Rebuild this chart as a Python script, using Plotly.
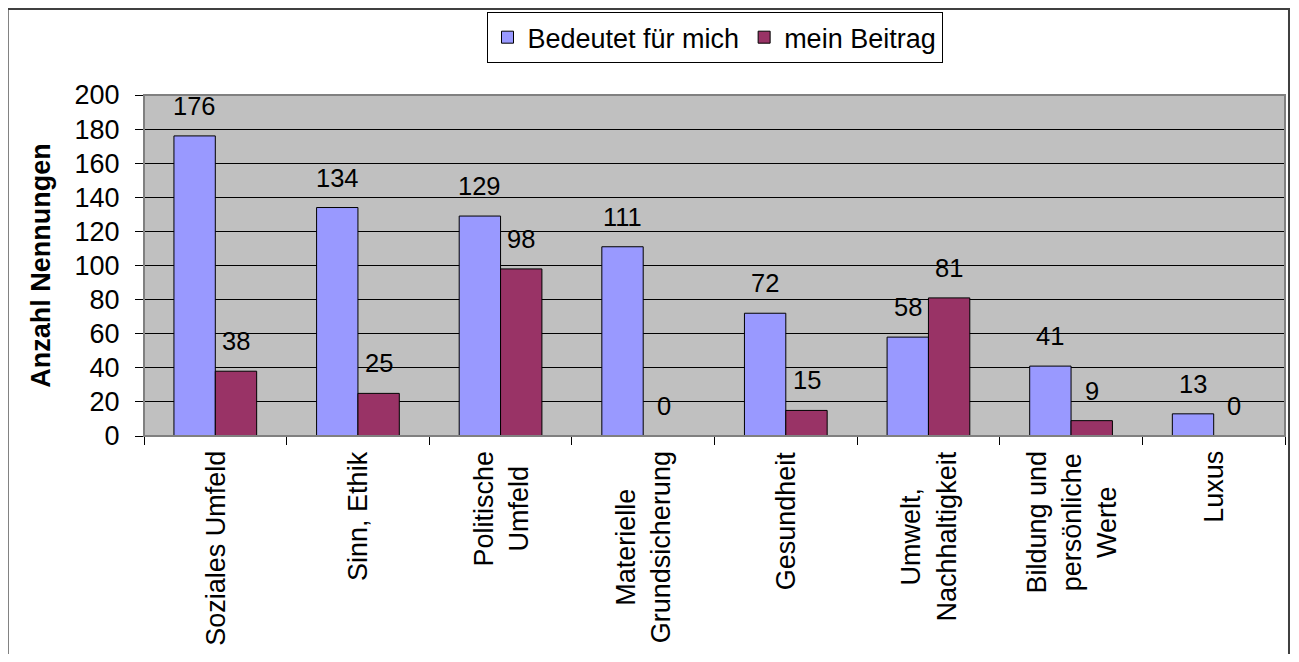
import plotly.graph_objects as go

categories = ["Soziales Umfeld", "Sinn, Ethik", "Politische<br>Umfeld",
              "Materielle<br>Grundsicherung", "Gesundheit",
              "Umwelt,<br>Nachhaltigkeit", "Bildung und<br>persönliche<br>Werte", "Luxus"]
bedeutet = [176, 134, 129, 111, 72, 58, 41, 13]
beitrag = [38, 25, 98, 0, 15, 81, 9, 0]
series_names = ["Bedeutet für mich", "mein Beitrag"]
y_ticks = [0, 20, 40, 60, 80, 100, 120, 140, 160, 180, 200]

FONT = "Arial, Liberation Sans, sans-serif"
FS = 27

fig = go.Figure()
fig.add_trace(go.Bar(x=categories, y=bedeutet, name=series_names[0],
                     marker=dict(color="#9999FF", line=dict(color="black", width=1))))
fig.add_trace(go.Bar(x=categories, y=beitrag, name=series_names[1],
                     marker=dict(color="#993366", line=dict(color="black", width=1))))

# value labels above each bar
for vals, shift in ((bedeutet, -20.7), (beitrag, 20.7)):
    for cat, v in zip(categories, vals):
        fig.add_annotation(x=cat, y=v, text=str(v), showarrow=False,
                           xshift=shift, yanchor="bottom", yshift=14,
                           font=dict(family=FONT, size=25.5, color="black"))

# rotated category labels, lines centred like the original
for cat in categories:
    fig.add_annotation(x=cat, y=0, yref="paper", text=cat, showarrow=False,
                       textangle=-90, align="center", yanchor="top", yshift=-13,
                       font=dict(family=FONT, size=FS, color="black"))

# outer chart frame
fig.add_shape(type="rect", xref="paper", yref="paper",
              x0=-0.1195, x1=1.0035, y0=-0.75, y1=1.252,
              line=dict(color="#404040", width=2), layer="below")
# plot area border
fig.add_shape(type="rect", xref="paper", yref="paper", x0=0, x1=1, y0=0, y1=1,
              line=dict(color="#808080", width=2))

fig.update_layout(
    width=1283, height=646,
    margin=dict(l=136, r=6, t=87, b=218, autoexpand=False),
    paper_bgcolor="white", plot_bgcolor="#C0C0C0",
    font=dict(family=FONT, size=FS, color="black"),
    barmode="group", bargap=0.42, bargroupgap=0,
    showlegend=True,
    legend=dict(orientation="h", x=0.5, xanchor="center", y=1.243, yanchor="top",
                bordercolor="black", borderwidth=1, bgcolor="white",
                font=dict(size=27), itemwidth=30),
)
fig.update_xaxes(type="category", ticks="outside", tickson="boundaries",
                 ticklen=8, tickcolor="black", showline=True, linecolor="black",
                 linewidth=1, showgrid=False, showticklabels=False)
fig.update_yaxes(range=[0, 200], tickvals=y_ticks, ticks="outside", ticklen=8,
                 tickcolor="black", showline=True, linecolor="black", linewidth=1,
                 gridcolor="black", gridwidth=1, zeroline=False, ticklabelstandoff=10,
                 title=dict(text="<b>Anzahl Nennungen</b>", font=dict(size=FS), standoff=16),
                 tickfont=dict(size=FS))

fig.write_html("out.html")
